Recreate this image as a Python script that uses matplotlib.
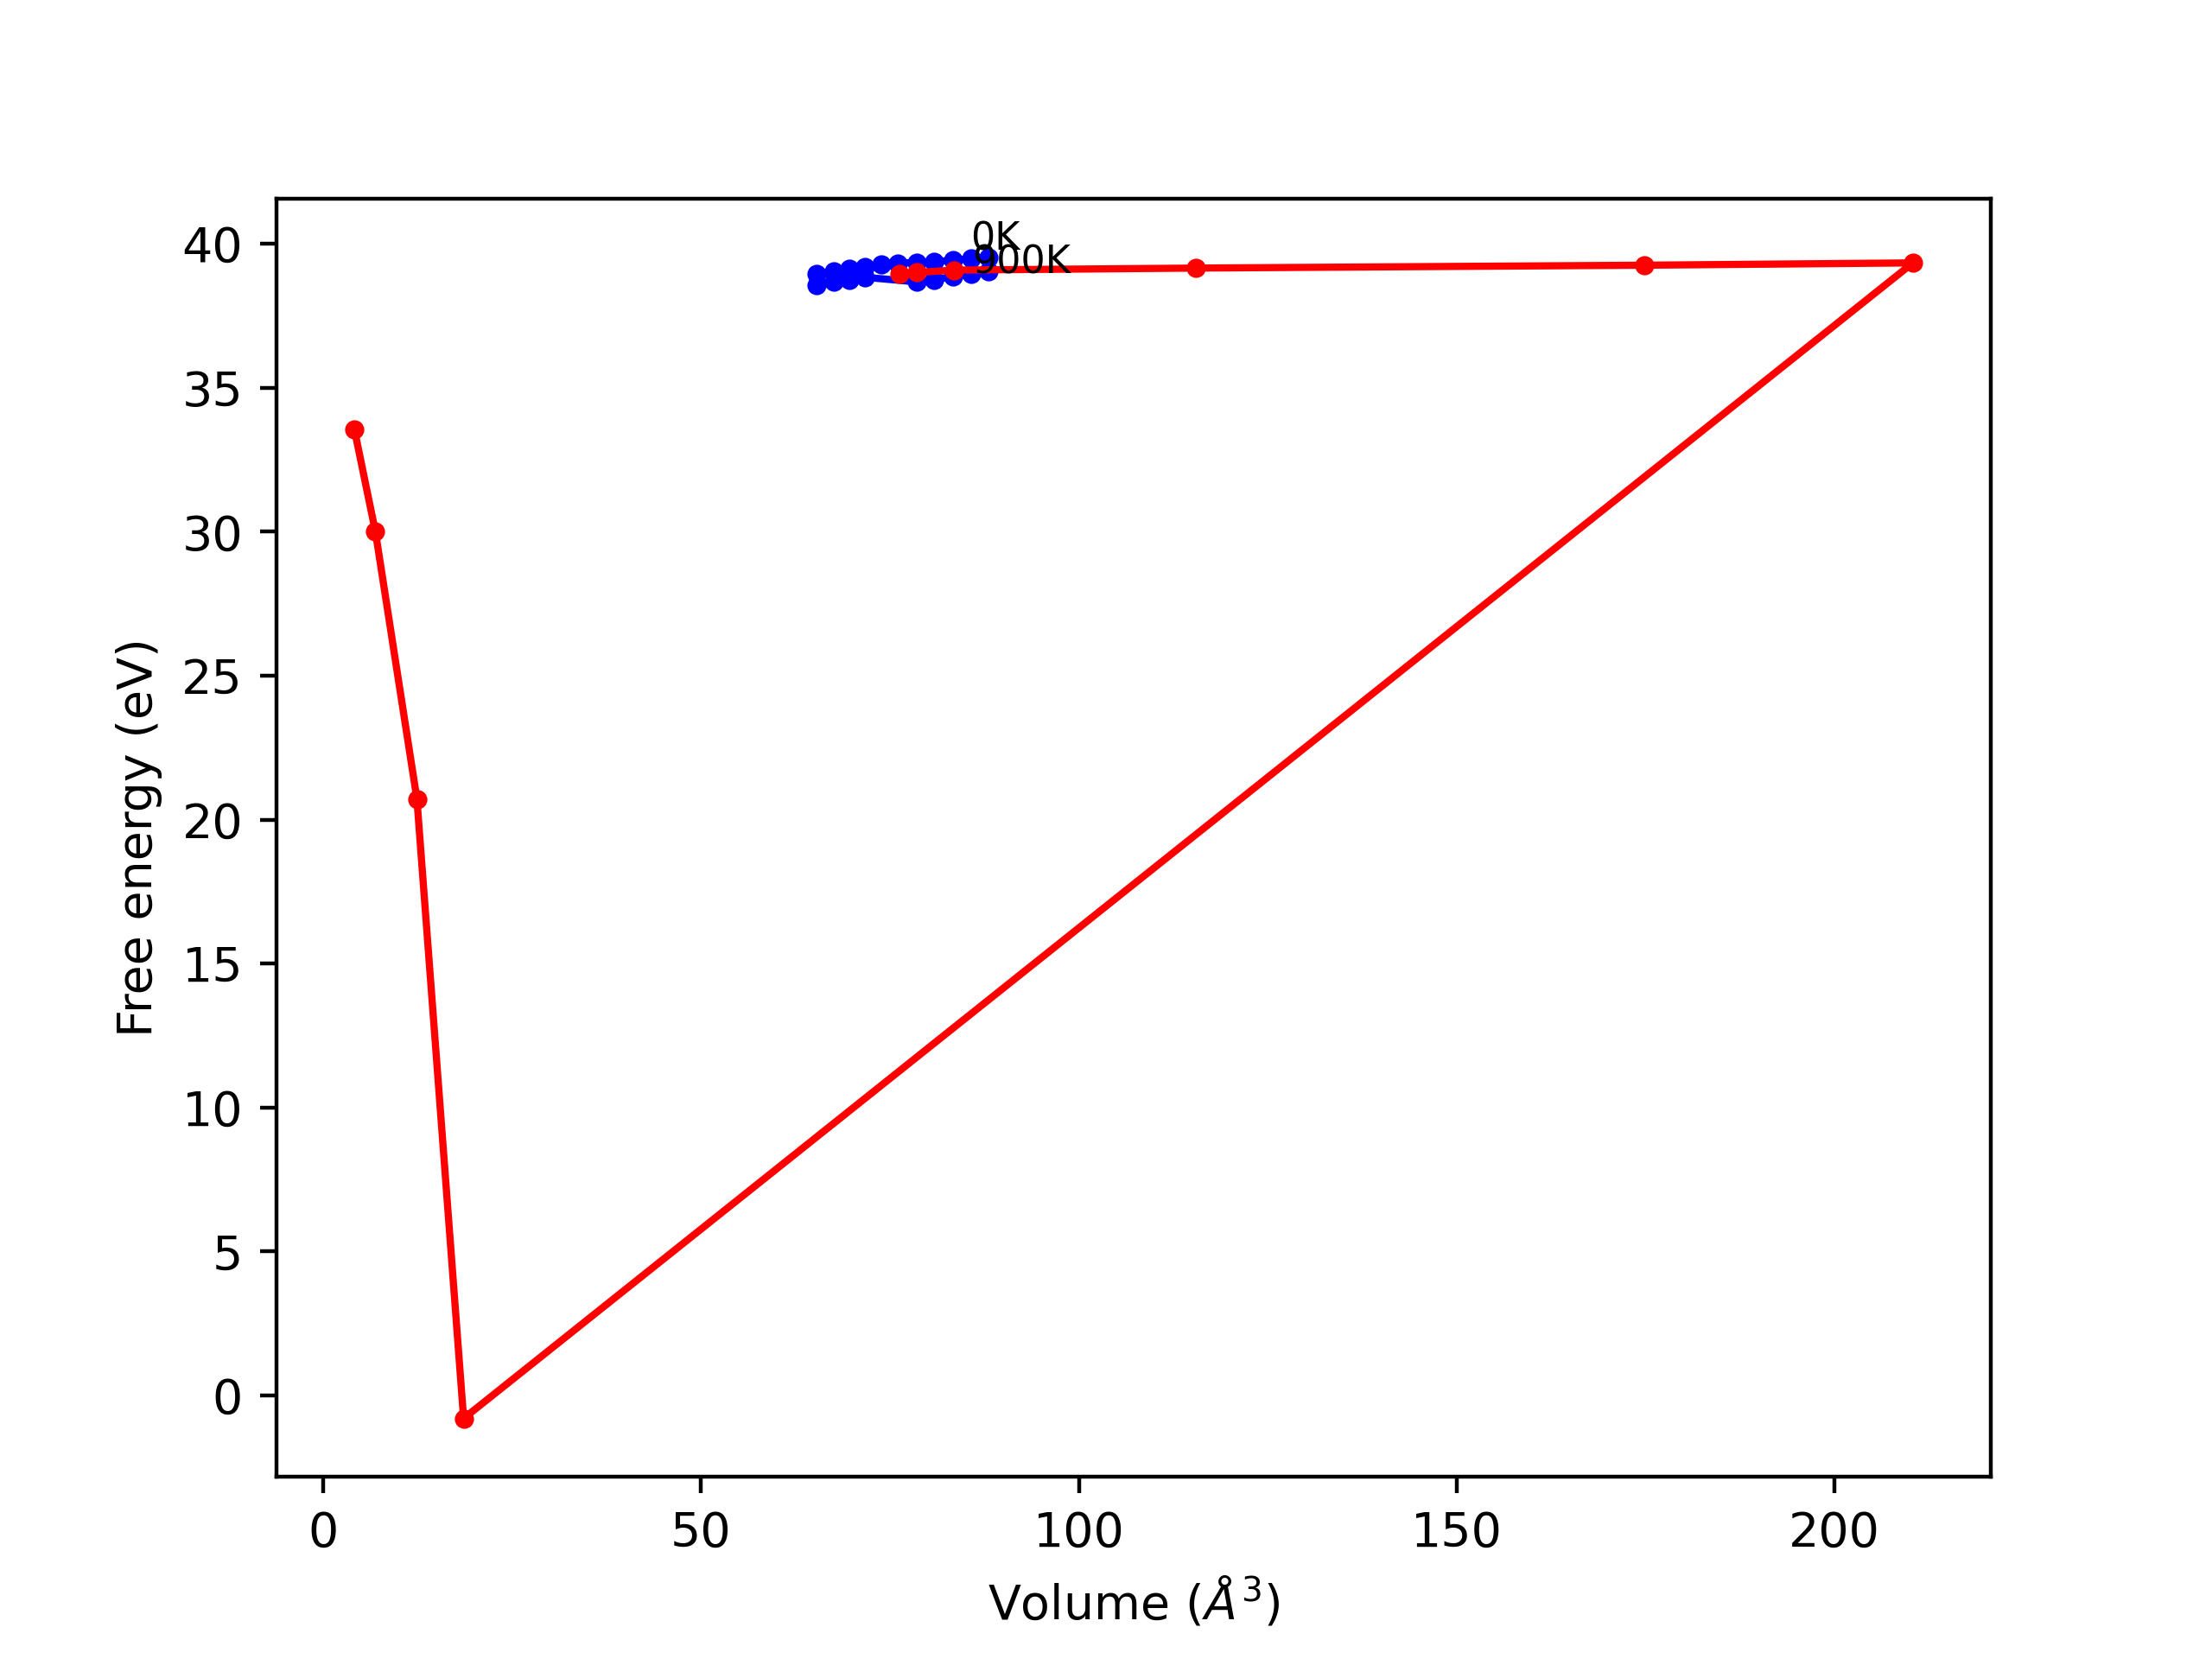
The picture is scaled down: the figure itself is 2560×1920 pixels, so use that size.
import matplotlib
matplotlib.use("Agg")
import matplotlib.pyplot as plt

# Blue free-energy curves (volume in A^3, energy in eV)
blue_upper_v = [65.28, 67.57, 69.59, 71.69, 73.86, 76.07, 78.55, 80.84, 83.31, 85.79, 88.08]
blue_upper_f = [38.96, 39.06, 39.14, 39.21, 39.28, 39.33, 39.36, 39.38, 39.43, 39.49, 39.54]
blue_lower_v = [65.28, 67.57, 69.59, 71.69, 78.55, 80.84, 83.31, 85.79, 88.08]
blue_lower_f = [38.58, 38.68, 38.76, 38.84, 38.68, 38.76, 38.86, 38.96, 39.06]

# Red line of minima
red_v = [76.26, 78.55, 83.5, 115.5, 174.8, 210.36, 18.57, 12.39, 6.90, 4.12]
red_f = [38.96, 39.01, 39.09, 39.16, 39.26, 39.34, -0.80, 20.72, 30.0, 33.55]

labels = ["0K", "900K"]
label_v = [85.66, 85.9]
label_f = [39.78, 38.96]

fig = plt.figure(figsize=(6.4, 4.8), dpi=400)
ax = fig.add_subplot(111)

ax.plot(blue_upper_v, blue_upper_f, 'bo-', ms=3)
ax.plot(blue_lower_v, blue_lower_f, 'bo-', ms=3)
ax.plot(red_v, red_f, 'ro-', ms=3, lw=1.5)

for t, v, f in zip(labels, label_v, label_f):
    ax.text(v, f, t, fontsize=8)

ax.set_xlabel(r'Volume ($\AA^3$)')
ax.set_ylabel('Free energy (eV)')

fig.savefig("out.png", dpi=400)
